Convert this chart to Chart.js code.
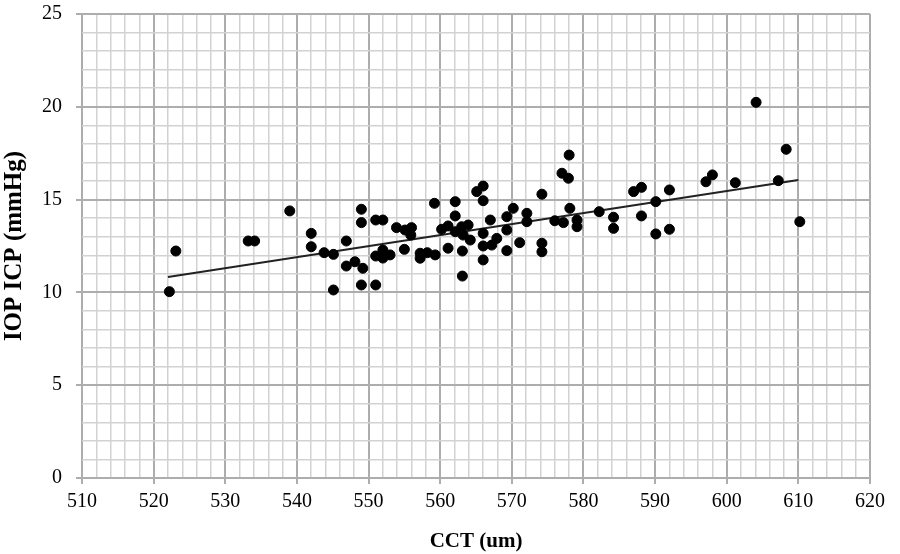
<!DOCTYPE html>
<html>
<head>
<meta charset="utf-8">
<script src="https://cdn.jsdelivr.net/npm/chart.js@4.4.1/dist/chart.umd.min.js"></script>
<style>
html,body{margin:0;padding:0;background:#fff;}
#wrap{width:900px;height:554px;position:relative;}
</style>
</head>
<body>
<div id="wrap"><canvas id="c" width="900" height="554"></canvas></div>
<script>
const cctValues = [522.2,523.1,533.2,534.1,539.0,542.0,542.0,543.8,545.1,545.1,546.9,546.9,548.1,549.2,549.0,549.0,549.0,551.0,551.0,552.0,551.0,552.0,552.0,553.0,553.9,555.1,556.0,555.9,555.0,557.2,558.2,559.3,557.2,559.2,560.2,561.1,562.1,563.0,563.9,563.2,564.2,561.1,563.1,563.1,562.1,562.1,565.1,566.0,566.0,567.0,570.2,569.3,572.1,572.1,574.2,569.3,567.9,567.2,566.0,566.0,571.1,569.3,566.0,574.2,574.2,577.0,577.9,578.0,578.1,576.0,577.2,579.1,579.1,582.2,584.2,584.2,587.0,588.1,588.1,590.1,590.1,592.0,592.0,597.1,598.0,601.2,604.1,607.2,608.3,610.2];
const iopValues = [10.04,12.23,12.77,12.77,14.39,13.18,12.46,12.14,12.05,10.13,12.77,11.42,11.65,11.30,14.48,13.76,10.40,10.40,13.90,13.90,11.96,12.28,11.85,12.02,13.49,13.36,13.49,13.09,12.32,12.11,12.14,12.02,11.84,14.80,13.40,13.58,13.27,13.54,13.63,13.09,12.82,12.38,12.23,10.88,14.89,14.12,15.43,15.73,14.94,13.90,14.53,14.08,14.26,13.81,15.29,13.36,12.91,12.55,13.18,12.50,12.68,12.25,11.75,12.65,12.19,16.42,16.15,17.40,14.53,13.86,13.76,13.90,13.54,14.35,14.05,13.45,15.43,15.66,14.12,14.89,13.15,15.52,13.40,15.96,16.33,15.91,20.24,16.02,17.71,13.81];
const trendX = [522, 610];
const trendY = [10.83, 16.06];
const xTickLabels = ['510','520','530','540','550','560','570','580','590','600','610','620'];
const yTickLabels = ['0','5','10','15','20','25'];
const xTitle = 'CCT (um)';
const yTitle = 'IOP ICP (mmHg)';

const points = cctValues.map((x, i) => ({x: x, y: iopValues[i]}));
const trend = trendX.map((x, i) => ({x: x, y: trendY[i]}));

const MAJOR = '#adadad', MINOR = '#d2d2d2';
const tickFont = {family: '"Liberation Serif", "Times New Roman", serif', size: 20};
const xTitleFont = {family: '"Liberation Serif", "Times New Roman", serif', size: 21, weight: 'bold'};
const yTitleFont = {family: '"Liberation Serif", "Times New Roman", serif', size: 25, weight: 'bold'};

new Chart(document.getElementById('c'), {
  type: 'scatter',
  data: {
    datasets: [
      {data: points, backgroundColor: '#000', borderColor: '#000', pointRadius: 5, pointHoverRadius: 5, order: 1},
      {type: 'line', data: trend, borderColor: '#222', borderWidth: 2, pointRadius: 0, fill: false, order: 2}
    ]
  },
  options: {
    responsive: false,
    animation: false,
    events: [],
    layout: {padding: {left: 0, right: 30, top: 14, bottom: 0}},
    plugins: {legend: {display: false}, tooltip: {enabled: false}},
    scales: {
      x: {
        type: 'linear', min: 510, max: 620,
        afterFit: s => { s.height = 76; s.paddingLeft = 0; s.paddingRight = 0; },
        ticks: {
          stepSize: 2, autoSkip: false, maxRotation: 0, color: '#000', font: tickFont, padding: 6,
          callback: v => { const i = (v - 510) / 10; return Number.isInteger(i) ? xTickLabels[i] : ''; }
        },
        grid: {
          color: c => (c.tick && Math.round(c.tick.value) % 10 === 0) ? MAJOR : MINOR,
          lineWidth: c => (c.tick && Math.round(c.tick.value) % 10 === 0) ? 2 : 1.5,
          tickColor: c => (c.tick && Math.round(c.tick.value) % 10 === 0) ? MAJOR : 'rgba(0,0,0,0)',
          tickLength: 6
        },
        border: {display: false},
        title: {display: true, text: xTitle, color: '#000', font: xTitleFont, padding: {top: 4, bottom: 0}}
      },
      y: {
        type: 'linear', min: 0, max: 25,
        afterFit: s => { s.width = 82; s.paddingTop = 0; s.paddingBottom = 0; },
        ticks: {
          stepSize: 1, autoSkip: false, color: '#000', font: tickFont, padding: 14,
          callback: v => { const i = v / 5; return Number.isInteger(i) ? yTickLabels[i] : ''; }
        },
        grid: {
          color: c => (c.tick && Math.round(c.tick.value) % 5 === 0) ? MAJOR : MINOR,
          lineWidth: c => (c.tick && Math.round(c.tick.value) % 5 === 0) ? 2 : 1.5,
          tickColor: c => (c.tick && Math.round(c.tick.value) % 5 === 0) ? MAJOR : 'rgba(0,0,0,0)',
          tickLength: 6
        },
        border: {display: false},
        title: {display: true, text: yTitle, color: '#000', font: yTitleFont, padding: {top: 0, bottom: 2}}
      }
    }
  }
});
</script>
</body>
</html>
